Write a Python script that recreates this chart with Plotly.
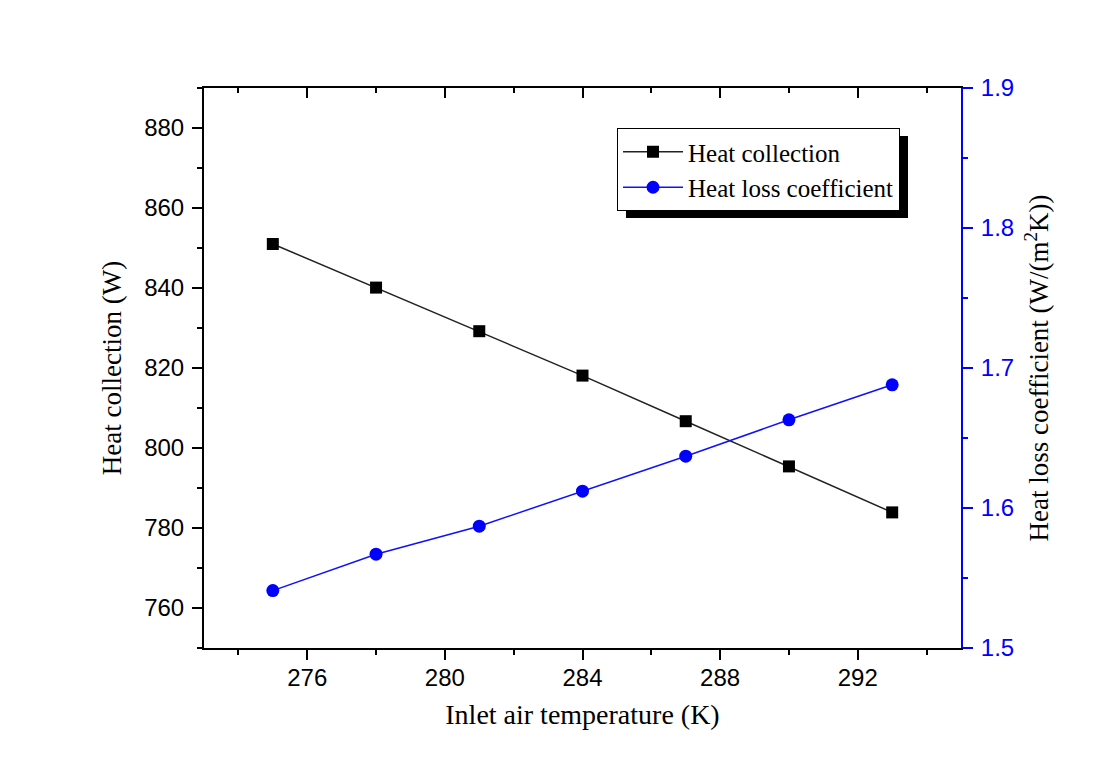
import plotly.graph_objects as go

temperature = [275, 278, 281, 284, 287, 290, 293]
heat_collection = [851.0, 840.1, 829.2, 818.1, 806.7, 795.4, 783.9]
heat_loss_coef = [1.541, 1.567, 1.587, 1.612, 1.637, 1.663, 1.688]

x_ticks = [276, 280, 284, 288, 292]
y_left_ticks = [760, 780, 800, 820, 840, 860, 880]
y_right_ticks = [1.5, 1.6, 1.7, 1.8, 1.9]

SERIF = "Liberation Serif, Times New Roman, serif"
SANS = "Liberation Sans, Arial, sans-serif"

fig = go.Figure()
fig.add_trace(go.Scatter(
    x=temperature, y=heat_collection, name="Heat collection",
    mode="lines+markers",
    line=dict(color="#222222", width=1.5),
    marker=dict(symbol="square", size=12, color="black"),
    xaxis="x", yaxis="y",
))
fig.add_trace(go.Scatter(
    x=temperature, y=heat_loss_coef, name="Heat loss coefficient",
    mode="lines+markers",
    line=dict(color="#1010ff", width=1.5),
    marker=dict(symbol="circle", size=13, color="#0000ff"),
    xaxis="x", yaxis="y2",
))
# invisible helper trace for the top (mirrored, inward-tick) axis
fig.add_trace(go.Scatter(
    x=[None], y=[None], xaxis="x2", yaxis="y", showlegend=False,
    hoverinfo="skip", mode="markers",
))

x_range = [273, 295]

fig.update_layout(
    width=1103, height=771,
    margin=dict(l=204, r=142, t=88, b=123),
    paper_bgcolor="white", plot_bgcolor="white",
    showlegend=True,
    legend=dict(
        x=0.5456, y=(648 - 128) / 560, xanchor="left", yanchor="top",
        bgcolor="white", bordercolor="black", borderwidth=1,
        font=dict(family=SERIF, size=25, color="black"),
        itemwidth=60, tracegroupgap=0,
    ),
    xaxis=dict(
        range=x_range, tickvals=x_ticks,
        showline=True, linecolor="black", linewidth=2,
        ticks="outside", ticklen=10, tickwidth=2, tickcolor="black",
        minor=dict(dtick=2, ticks="outside", ticklen=5, tickwidth=2, tickcolor="black"),
        showgrid=False, zeroline=False,
        tickfont=dict(family=SANS, size=24, color="black"),
        ticklabelstandoff=-3,
        title=dict(text="Inlet air temperature (K)", font=dict(family=SERIF, size=28, color="black"), standoff=15),
    ),
    xaxis2=dict(
        range=x_range, overlaying="x", side="top", tickvals=x_ticks,
        showline=True, linecolor="black", linewidth=2,
        ticks="inside", ticklen=10, tickwidth=2, tickcolor="black",
        minor=dict(dtick=2, ticks="inside", ticklen=5, tickwidth=2, tickcolor="black"),
        showticklabels=False, showgrid=False, zeroline=False,
    ),
    yaxis=dict(
        range=[750, 890], tickvals=y_left_ticks,
        showline=True, linecolor="black", linewidth=2,
        ticks="outside", ticklen=10, tickwidth=2, tickcolor="black",
        minor=dict(dtick=10, ticks="outside", ticklen=5, tickwidth=2, tickcolor="black"),
        showgrid=False, zeroline=False,
        tickfont=dict(family=SANS, size=24, color="black"),
        ticklabelstandoff=3,
        title=dict(text="Heat collection (W)", font=dict(family=SERIF, size=27, color="black"), standoff=15),
    ),
    yaxis2=dict(
        range=[1.5, 1.9], tickvals=y_right_ticks, tickformat=".1f",
        overlaying="y", side="right", anchor="x",
        showline=True, linecolor="#0000ff", linewidth=2,
        ticks="outside", ticklen=10, tickwidth=2, tickcolor="#0000ff",
        minor=dict(dtick=0.05, ticks="outside", ticklen=5, tickwidth=2, tickcolor="#0000ff"),
        showgrid=False, zeroline=False,
        tickfont=dict(family=SANS, size=24, color="#0000ff"),
        ticklabelstandoff=3,
        title=dict(text="Heat loss coefficient (W/(m<sup>2</sup>K))", font=dict(family=SERIF, size=27, color="black"), standoff=16),
    ),
)

# legend drop shadow (offset ~9 px right, ~8 px down from the legend box)
fig.add_shape(
    type="rect", xref="paper", yref="paper",
    x0=(626 - 204) / 757, x1=(908 - 204) / 757,
    y0=(648 - 218) / 560, y1=(648 - 136) / 560,
    fillcolor="black", line=dict(width=0), layer="above",
)

fig.write_html("out.html")
